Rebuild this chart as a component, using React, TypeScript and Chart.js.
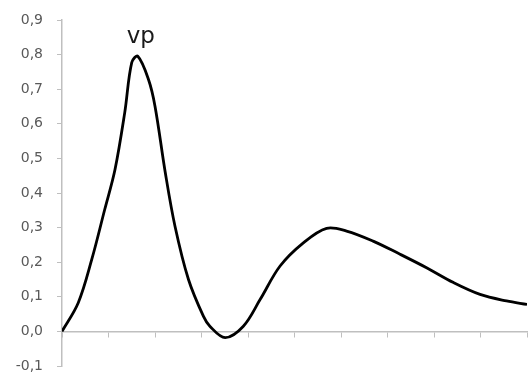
import React, { useEffect, useRef } from "react";
import { Chart, registerables } from "chart.js";

Chart.register(...registerables);

// Curve samples (x in axis units 0..10, y values)
const xValues = [0, 0.35, 0.64, 0.92, 1.14, 1.35, 1.5, 1.63, 1.86, 2.0, 2.22, 2.43, 2.72, 3.04, 3.18, 3.51, 3.9, 4.26, 4.69, 5.19, 5.69, 6.12, 6.69, 7.27, 7.84, 8.42, 8.99, 9.56, 10];
const yValues = [0, 0.083, 0.208, 0.353, 0.468, 0.633, 0.777, 0.795, 0.728, 0.651, 0.46, 0.304, 0.15, 0.044, 0.015, -0.018, 0.015, 0.092, 0.189, 0.256, 0.298, 0.29, 0.261, 0.223, 0.184, 0.141, 0.107, 0.088, 0.078];
const peakLabel = "vp";
const yMin = -0.1;
const yMax = 0.9;
const xMin = 0;
const xMax = 10;

const peakLabelPlugin = {
  id: "peakLabel",
  afterDatasetsDraw(chart: any) {
    let idx = 0;
    yValues.forEach((v, i) => {
      if (v > yValues[idx]) idx = i;
    });
    const px = chart.scales.x.getPixelForValue(xValues[idx]);
    const py = chart.scales.y.getPixelForValue(yValues[idx]);
    const ctx = chart.ctx;
    ctx.save();
    ctx.font = '23px "DejaVu Sans"';
    ctx.fillStyle = "#1a1a1a";
    ctx.textAlign = "center";
    ctx.textBaseline = "alphabetic";
    ctx.fillText(peakLabel, px + 3, py - 13);
    ctx.restore();
  },
};

export default function App() {
  const ref = useRef<HTMLCanvasElement>(null);
  useEffect(() => {
    if (!ref.current) return;
    const chart = new Chart(ref.current, {
      type: "line",
      data: {
        datasets: [
          {
            data: xValues.map((x, i) => ({ x, y: yValues[i] })),
            borderColor: "#000000",
            borderWidth: 2.8,
            pointRadius: 0,
            fill: false,
            tension: 0.35,
          },
        ],
      },
      options: {
        animation: false,
        responsive: false,
        layout: { padding: { top: 20, bottom: 10, left: 0, right: 1 } },
        plugins: { legend: { display: false }, tooltip: { enabled: false } },
        scales: {
          x: {
            type: "linear",
            position: { y: 0 } as any,
            min: xMin,
            max: xMax,
            afterFit: (s: any) => {
              s.paddingTop = 0;
              s.paddingBottom = 0;
            },
            ticks: { stepSize: 1, display: false },
            grid: { drawOnChartArea: false, drawTicks: true, tickLength: 5, color: "#bfbfbf", lineWidth: 1 },
            border: { display: true, color: "#bfbfbf", width: 1.5 },
          },
          y: {
            type: "linear",
            min: yMin,
            max: yMax,
            afterFit: (s: any) => {
              s.width = 62;
              s.paddingTop = 0;
              s.paddingBottom = 0;
            },
            ticks: {
              stepSize: 0.1,
              padding: 14,
              color: "#595959",
              font: { family: '"DejaVu Sans"', size: 14 },
              callback: (v: any) => Number(v).toFixed(1).replace(".", ","),
            },
            grid: { drawOnChartArea: false, drawTicks: true, tickLength: 5, color: "#bfbfbf", lineWidth: 1 },
            border: { display: true, color: "#bfbfbf", width: 1.5 },
          },
        },
      },
      plugins: [peakLabelPlugin],
    });
    return () => chart.destroy();
  }, []);
  return (
    <div style={{ position: "absolute", left: 0, top: 0, width: 528, height: 376, background: "#fff" }}>
      <canvas ref={ref} width={528} height={376} style={{ display: "block" }} />
    </div>
  );
}
